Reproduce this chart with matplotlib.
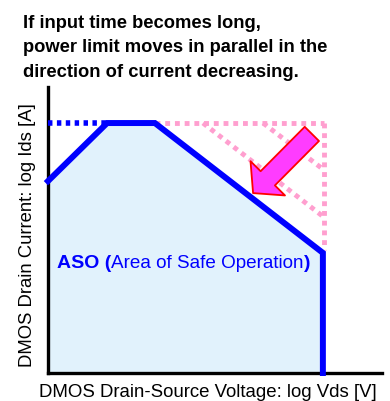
import matplotlib
matplotlib.use("Agg")
import matplotlib.pyplot as plt
from matplotlib.patches import FancyArrowPatch

plt.rcParams['font.family'] = ['Liberation Sans', 'DejaVu Sans']

# ASO boundary in axis units (log Vds, log Ids), 0..10 on both axes
aso_x = [0.0, 1.77, 3.20, 8.23, 8.23]
aso_y = [6.71, 8.74, 8.74, 4.20, 0.0]

# current limit continued to the left (blue dotted)
ilim_x = [0.0, 1.77]
ilim_y = [8.74, 8.74]

# power limits for shorter input time (pink dotted)
pink_top_x = [3.20, 8.26]
pink_top_y = [8.74, 8.74]
pink_side_x = [8.26, 8.26]
pink_side_y = [8.74, 4.30]
pink_p1_x = [4.64, 8.26]
pink_p1_y = [8.74, 5.45]
pink_p2_x = [6.44, 8.26]
pink_p2_y = [8.74, 7.10]

# arrow: tail -> head
arrow_tail = (7.90, 8.36)
arrow_head = (6.14, 6.29)

title_lines = ["If input time becomes long,",
               "power limit moves in parallel in the",
               "direction of current decreasing."]

W, H = 390, 401
fig = plt.figure(figsize=(W / 100, H / 100), dpi=100)
ax = fig.add_axes([48 / W, 28 / H, 334 / W, 286 / H])
ax.set_xlim(0, 10)
ax.set_ylim(0, 10)

blue = '#0000FF'
pink = '#FF9FCF'

# safe area
ax.fill(aso_x + [0.0], aso_y + [0.0], color='#E1F2FC', lw=0, zorder=1)

# pink dotted lines
for xs, ys in [(pink_top_x, pink_top_y), (pink_side_x, pink_side_y),
               (pink_p1_x, pink_p1_y), (pink_p2_x, pink_p2_y)]:
    ax.plot(xs, ys, color=pink, lw=3.5, ls=(0, (1, 1)), dash_capstyle='butt',
            zorder=2, clip_on=False)

# blue dotted + ASO line
ax.plot(ilim_x, ilim_y, color=blue, lw=4, ls=(0, (0.8, 0.8)), zorder=3, clip_on=False)
ax.plot(aso_x, aso_y, color=blue, lw=4.3, solid_joinstyle='miter', zorder=4, clip_on=False)

# arrow
arr = FancyArrowPatch(arrow_tail, arrow_head,
                      arrowstyle='simple,head_length=15,head_width=35,tail_width=14.5',
                      mutation_scale=1, shrinkA=0, shrinkB=0,
                      facecolor='#FF3CFF', edgecolor='#FF0000', lw=1.3, zorder=5)
ax.add_patch(arr)

# ASO label with mixed weights
t1 = ax.text(0.27, 3.67, 'ASO (', color=blue, fontsize=14, fontweight='bold',
             ha='left', va='baseline', zorder=6)
t2 = ax.annotate('Area of Safe Operation', xy=(1, 0), xycoords=t1, color=blue,
                 fontsize=13.6, ha='left', va='bottom', zorder=6)
ax.annotate(')', xy=(1, 0), xycoords=t2, color=blue, fontsize=14,
            fontweight='bold', ha='left', va='bottom', zorder=6)

# axes style
for s in ['top', 'right']:
    ax.spines[s].set_visible(False)
for s in ['left', 'bottom']:
    ax.spines[s].set_linewidth(2.4)
    ax.spines[s].set_color('black')
ax.set_xticks([])
ax.set_yticks([])

# title
for i, line in enumerate(title_lines):
    fig.text(23 / W, 1 - (28 + 24.5 * i) / H, line, fontsize=13.2,
             fontweight='bold', ha='left', va='baseline')

fig.text(28 / W, 1 - 235 / H, 'DMOS Drain Current: log Ids [A]', fontsize=13.3,
         rotation=90, ha='center', va='center')
fig.text(208 / W, 4 / H, 'DMOS Drain-Source Voltage: log Vds [V]', fontsize=13.4,
         ha='center', va='baseline')

fig.savefig('out.png', dpi=100)
